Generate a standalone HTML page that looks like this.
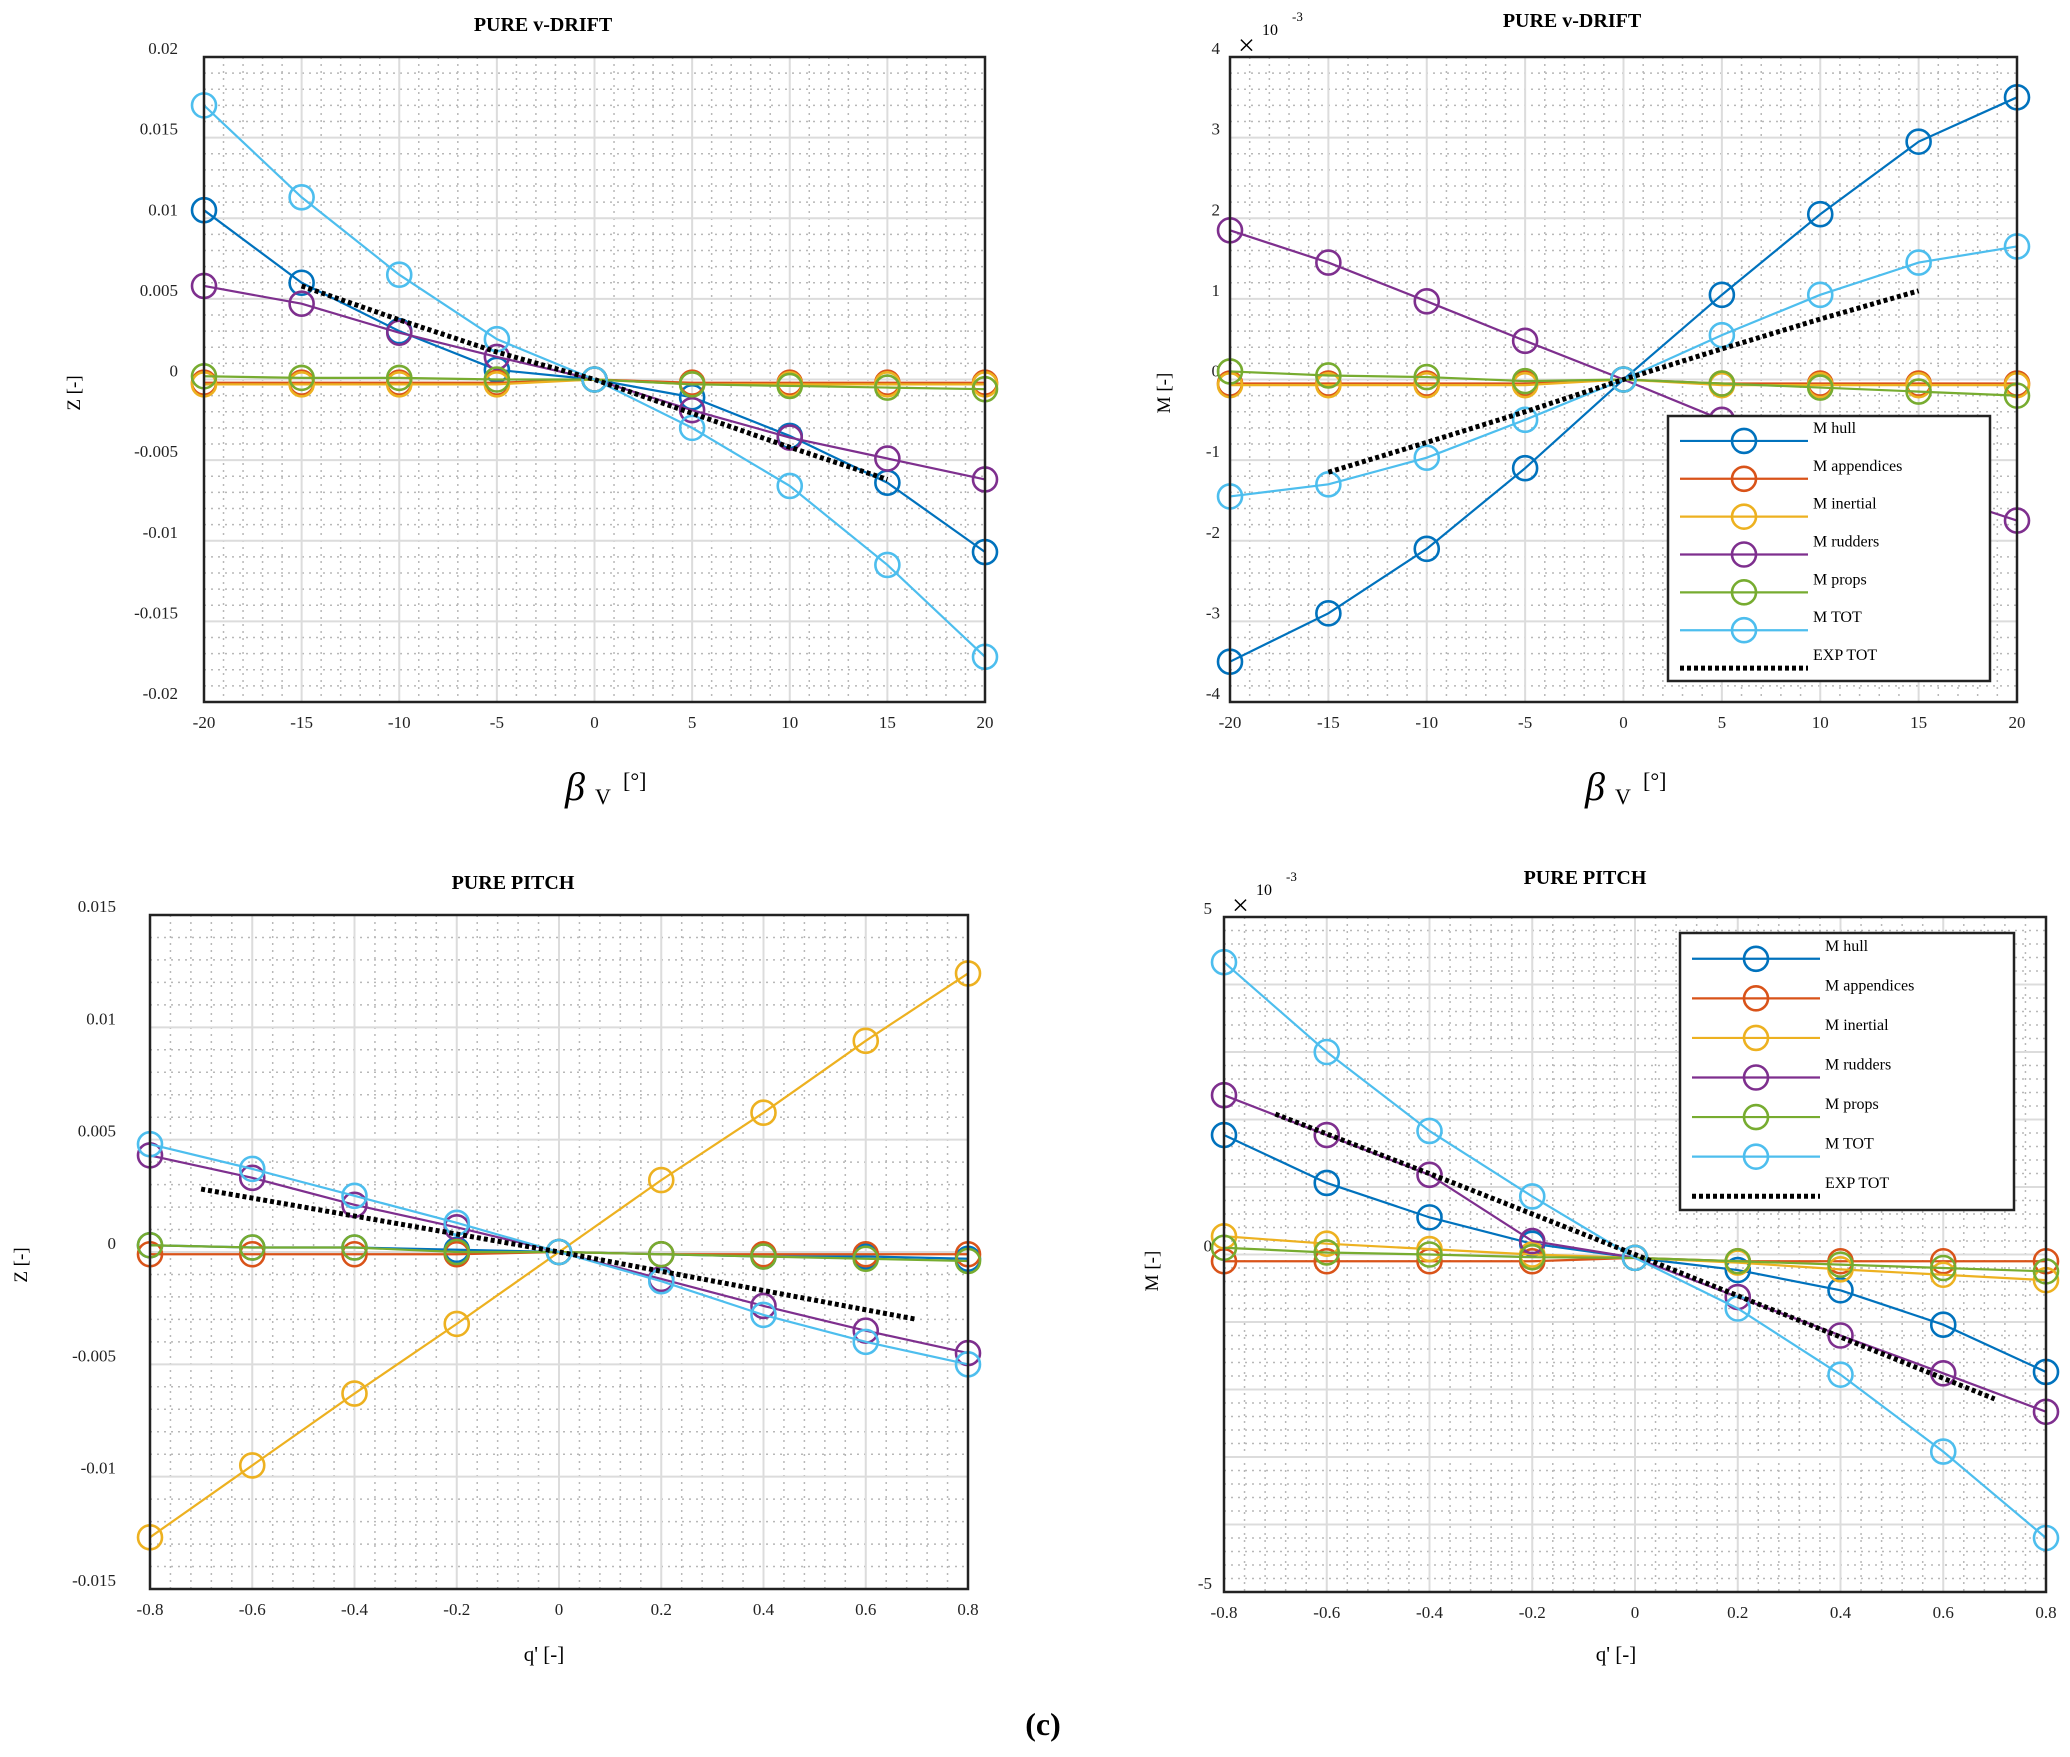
<!DOCTYPE html>
<html><head><meta charset="utf-8">
<style>
body{margin:0;background:#fff;}
svg{display:block;font-family:"Liberation Serif",serif;}
</style></head>
<body>
<svg id="fig" width="2070" height="1757" viewBox="0 0 2070 1757" xmlns="http://www.w3.org/2000/svg">
<rect width="2070" height="1757" fill="#fff"/>
<text x="1043" y="1735" font-size="32" font-weight="bold" text-anchor="middle">(c)</text>
</svg>
<script>
const seriesNames = ["M hull","M appendices","M inertial","M rudders","M props","M TOT"];
const seriesColors = ["#0072BD","#D95319","#EDB120","#7E2F8E","#77AC30","#4DBEEE"];

// Chart 1: PURE v-DRIFT, Z
const c1X = [-20,-15,-10,-5,0,5,10,15,20];
const c1Hull = [0.0105,0.006,0.003,0.0006,0,-0.0011,-0.0035,-0.0064,-0.0107];
const c1App = [-0.0002,-0.0002,-0.0002,-0.0002,0,-0.0002,-0.0002,-0.0002,-0.0002];
const c1Inert = [-0.0003,-0.0003,-0.0003,-0.0003,0,-0.0003,-0.0003,-0.0003,-0.0003];
const c1Rud = [0.0058,0.0047,0.0029,0.0014,0,-0.0019,-0.0036,-0.0049,-0.0062];
const c1Props = [0.0002,0.0001,0.0001,0,0,-0.0003,-0.0004,-0.0005,-0.0006];
const c1Tot = [0.017,0.0113,0.0065,0.0025,0,-0.003,-0.0066,-0.0115,-0.0172];
const c1ExpX = [-15,-10,-5,0,5,10,15];
const c1Exp = [0.0058,0.0037,0.0017,0,-0.0021,-0.0042,-0.0062];
const c1YTicks = [0.02,0.015,0.01,0.005,0,-0.005,-0.01,-0.015,-0.02];
const c1YLabels = ["0.02","0.015","0.01","0.005","0","-0.005","-0.01","-0.015","-0.02"];
const c1XTicks = [-20,-15,-10,-5,0,5,10,15,20];

// Chart 2: PURE v-DRIFT, M (x1e-3)
const c2X = [-20,-15,-10,-5,0,5,10,15,20];
const c2Hull = [-3.5,-2.9,-2.1,-1.1,0,1.05,2.05,2.95,3.5];
const c2App = [-0.05,-0.05,-0.05,-0.05,0,-0.05,-0.05,-0.05,-0.05];
const c2Inert = [-0.07,-0.07,-0.07,-0.07,0,-0.07,-0.07,-0.07,-0.07];
const c2Rud = [1.85,1.45,0.97,0.48,0,-0.5,-0.95,-1.35,-1.75];
const c2Props = [0.1,0.05,0.03,-0.02,0,-0.05,-0.1,-0.15,-0.2];
const c2Tot = [-1.45,-1.3,-0.97,-0.5,0,0.55,1.05,1.45,1.65];
const c2ExpX = [-15,-10,-5,0,5,10,15];
const c2Exp = [-1.15,-0.78,-0.4,0,0.38,0.75,1.1];
const c2YTicks = [4,3,2,1,0,-1,-2,-3,-4];
const c2YLabels = ["4","3","2","1","0","-1","-2","-3","-4"];
const c2XTicks = [-20,-15,-10,-5,0,5,10,15,20];

// Chart 3: PURE PITCH, Z
const c3X = [-0.8,-0.6,-0.4,-0.2,0,0.2,0.4,0.6,0.8];
const c3Hull = [0.0003,0.0002,0.0002,0.0001,0,-0.0001,-0.0002,-0.0002,-0.0003];
const c3App = [-0.0001,-0.0001,-0.0001,-0.0001,0,-0.0001,-0.0001,-0.0001,-0.0001];
const c3Inert = [-0.0127,-0.0095,-0.0063,-0.0032,0,0.0032,0.0062,0.0094,0.0124];
const c3Rud = [0.0043,0.0033,0.0021,0.0011,0,-0.0012,-0.0024,-0.0035,-0.0045];
const c3Props = [0.0003,0.0002,0.0002,0,0,-0.0001,-0.0002,-0.0003,-0.0004];
const c3Tot = [0.0048,0.0037,0.0025,0.0013,0,-0.0013,-0.0028,-0.004,-0.005];
const c3ExpX = [-0.7,-0.35,0,0.35,0.7];
const c3Exp = [0.0028,0.0014,0,-0.0015,-0.003];
const c3YTicks = [0.015,0.01,0.005,0,-0.005,-0.01,-0.015];
const c3YLabels = ["0.015","0.01","0.005","0","-0.005","-0.01","-0.015"];
const c3XTicks = [-0.8,-0.6,-0.4,-0.2,0,0.2,0.4,0.6,0.8];

// Chart 4: PURE PITCH, M (x1e-3)
const c4X = [-0.8,-0.6,-0.4,-0.2,0,0.2,0.4,0.6,0.8];
const c4Hull = [1.77,1.06,0.55,0.16,-0.05,-0.23,-0.53,-1.04,-1.74];
const c4App = [-0.1,-0.1,-0.1,-0.1,-0.05,-0.1,-0.1,-0.1,-0.1];
const c4Inert = [0.27,0.16,0.08,0,-0.05,-0.12,-0.22,-0.3,-0.38];
const c4Rud = [2.36,1.77,1.18,0.2,-0.05,-0.63,-1.2,-1.76,-2.33];
const c4Props = [0.1,0.03,0,-0.04,-0.05,-0.1,-0.15,-0.2,-0.25];
const c4Tot = [4.33,3.0,1.83,0.86,-0.05,-0.8,-1.78,-2.92,-4.2];
const c4ExpX = [-0.7,-0.35,0,0.35,0.7];
const c4Exp = [2.08,1.05,0,-1.07,-2.14];
const c4YTicks = [5,4,3,2,1,0,-1,-2,-3,-4,-5];
const c4YLabels = ["5","","","","","0","","","","","-5"];
const c4XTicks = [-0.8,-0.6,-0.4,-0.2,0,0.2,0.4,0.6,0.8];

const NS = "http://www.w3.org/2000/svg";
const svg = document.getElementById('fig');
function mk(tag, attrs, parent){
  const e = document.createElementNS(NS, tag);
  for (const k in attrs) e.setAttribute(k, attrs[k]);
  (parent||svg).appendChild(e);
  return e;
}

function chart(cfg){
  const g = mk('g', {});
  
  
  const L=cfg.box[0], R=cfg.box[1], T=cfg.box[2], B=cfg.box[3];
  const sx = v => L + (v - cfg.xr[0])/(cfg.xr[1]-cfg.xr[0])*(R-L);
  const sy = v => B - (v - cfg.yr[0])/(cfg.yr[1]-cfg.yr[0])*(B-T);
  // minor grid
  const xStep = cfg.xTicks[1]-cfg.xTicks[0];
  const yStep = cfg.yTicks[0]-cfg.yTicks[1];
  for (let i=0;i<cfg.xTicks.length-1;i++){
    for (let k=1;k<5;k++){
      const x = sx(cfg.xTicks[i]+xStep*k/5);
      const ln = mk('line',{x1:x,x2:x,y1:T,y2:B,stroke:'#b8b8b8','stroke-width':1.5,'stroke-dasharray':'2 5'},g);
      
      
    }
  }
  for (let i=0;i<cfg.yTicks.length-1;i++){
    for (let k=1;k<5;k++){
      const y = sy(cfg.yTicks[i]-yStep*k/5);
      const ln = mk('line',{x1:L,x2:R,y1:y,y2:y,stroke:'#b8b8b8','stroke-width':1.5,'stroke-dasharray':'2 5'},g);
      
      
    }
  }
  // major grid + ticks
  cfg.xTicks.forEach(v=>{
    const x=sx(v);
    const ln = mk('line',{x1:x,x2:x,y1:T,y2:B,stroke:'#dcdcdc','stroke-width':2},g);
    
    
    const t = mk('text',{x:x,y:B+26,'font-size':17,'text-anchor':'middle',fill:'#222'},g);
    t.textContent = String(v);
    
    
  });
  cfg.yTicks.forEach((v,i)=>{
    const y=sy(v);
    const ln = mk('line',{x1:L,x2:R,y1:y,y2:y,stroke:'#dcdcdc','stroke-width':2},g);
    
    
    if (cfg.yLabels[i]!==""){
      const t = mk('text',{x:L-cfg.ylabOff,y:y-3,'font-size':17,'text-anchor':'end',fill:'#222'},g);
      t.textContent = cfg.yLabels[i];
      
      
    }
  });
  // series
  const sets=[cfg.hull,cfg.app,cfg.inert,cfg.rud,cfg.props,cfg.tot];
  const clip = mk('clipPath',{id:cfg.name+'-clip'},g);
  mk('rect',{x:L-14,y:T-14,width:R-L+28,height:B-T+28},clip);
  sets.forEach((vals,si)=>{
    const sg = mk('g',{},g);
    
    
    const pts = vals.map((v,i)=>sx(cfg.x[i])+','+sy(v)).join(' ');
    const pl = mk('polyline',{points:pts,fill:'none',stroke:seriesColors[si],'stroke-width':2.2},sg);
    
    
    vals.forEach((v,i)=>{
      const c = mk('circle',{cx:sx(cfg.x[i]),cy:sy(v),r:12,fill:'none',stroke:seriesColors[si],'stroke-width':2.6},sg);
      
      
    });
  });
  const ep = cfg.exp.map((v,i)=>sx(cfg.expX[i])+','+sy(v)).join(' ');
  const el = mk('polyline',{points:ep,fill:'none',stroke:'#000','stroke-width':5,'stroke-dasharray':'4 3'},g);
  
  
  // frame
  const fr = mk('rect',{x:L,y:T,width:R-L,height:B-T,fill:'none',stroke:'#222','stroke-width':2.5},g);
  
  
  // title
  const tt = mk('text',{x:cfg.title[1],y:cfg.title[2],'font-size':20,'font-weight':'bold','text-anchor':'middle'},g);
  tt.textContent = cfg.title[0];
  
  
  // y label
  const yl = mk('text',{x:0,y:0,'font-size':19,'text-anchor':'middle',transform:'translate('+cfg.ylab[1]+','+cfg.ylab[2]+') rotate(-90)'},g);
  yl.textContent = cfg.ylab[0];
  
  
  // x label
  if (cfg.beta){
    const xl = mk('text',{x:cfg.xlab[1],y:cfg.xlab[2],'font-size':40,'font-style':'italic','text-anchor':'middle'},g);
    xl.textContent = 'β';
    
    
    const sub = mk('text',{x:cfg.xlab[1]+20,y:cfg.xlab[2]+4,'font-size':22},g);
    sub.textContent='V';
    
    
    const u = mk('text',{x:cfg.xlab[1]+48,y:cfg.xlab[2]-12,'font-size':22},g);
    u.textContent='[°]';
    
    
  } else {
    const xl = mk('text',{x:cfg.xlab[1],y:cfg.xlab[2],'font-size':21,'text-anchor':'middle'},g);
    xl.textContent = cfg.xlab[0];
    
    
  }
  if (cfg.exp10){
    const m = mk('text',{x:L+8,y:T-2,'font-size':30},g);
    m.textContent='×';
    
    
    const m2 = mk('text',{x:L+32,y:T-22,'font-size':16},g);
    m2.textContent='10';
    
    
    const m3 = mk('text',{x:L+62,y:T-36,'font-size':13},g);
    m3.textContent='-3';
    
    
  }
  if (cfg.legend){
    const [lx,rx,ty,by] = cfg.legend;
    const lg = mk('g',{},g);
    
    
    const lb = mk('rect',{x:lx,y:ty,width:rx-lx,height:by-ty,fill:'#fff',stroke:'#222','stroke-width':2.5},lg);
    
    
    const sp = (by-ty)/7;
    const names = seriesNames.concat(['EXP TOT']);
    names.forEach((n,i)=>{
      const y = ty + sp*(i+0.5);
      const eg = mk('g',{},lg);
      
      
      if (i<6){
        mk('line',{x1:lx+12,x2:lx+140,y1:y+6,y2:y+6,stroke:seriesColors[i],'stroke-width':2.2},eg);
        mk('circle',{cx:lx+76,cy:y+6,r:12,fill:'none',stroke:seriesColors[i],'stroke-width':2.6},eg);
      } else {
        mk('line',{x1:lx+12,x2:lx+140,y1:y+6,y2:y+6,stroke:'#000','stroke-width':5,'stroke-dasharray':'4 3'},eg);
      }
      const t = mk('text',{x:lx+145,y:y-2,'font-size':16},eg);
      t.textContent = n;
    });
  }
}

chart({name:'chart-z-vdrift',box:[204,985,57,702],xr:[-20,20],yr:[-0.02,0.02],x:c1X,hull:c1Hull,app:c1App,inert:c1Inert,rud:c1Rud,props:c1Props,tot:c1Tot,expX:c1ExpX,exp:c1Exp,xTicks:c1XTicks,yTicks:c1YTicks,yLabels:c1YLabels,ylabOff:26,title:['PURE v-DRIFT',543,31],ylab:['Z [-]',80,393],xlab:['',575,800],beta:true});
chart({name:'chart-m-vdrift',box:[1230,2017,57,702],xr:[-20,20],yr:[-4,4],x:c2X,hull:c2Hull,app:c2App,inert:c2Inert,rud:c2Rud,props:c2Props,tot:c2Tot,expX:c2ExpX,exp:c2Exp,xTicks:c2XTicks,yTicks:c2YTicks,yLabels:c2YLabels,ylabOff:10,title:['PURE v-DRIFT',1572,27],ylab:['M [-]',1170,393],xlab:['',1595,800],beta:true,exp10:true,legend:[1668,1990,416,681]});
chart({name:'chart-z-pitch',box:[150,968,915,1589],xr:[-0.8,0.8],yr:[-0.015,0.015],x:c3X,hull:c3Hull,app:c3App,inert:c3Inert,rud:c3Rud,props:c3Props,tot:c3Tot,expX:c3ExpX,exp:c3Exp,xTicks:c3XTicks,yTicks:c3YTicks,yLabels:c3YLabels,ylabOff:34,title:['PURE PITCH',513,889],ylab:['Z [-]',27,1265],xlab:["q' [-]",544,1661]});
chart({name:'chart-m-pitch',box:[1224,2046,917,1592],xr:[-0.8,0.8],yr:[-5,5],x:c4X,hull:c4Hull,app:c4App,inert:c4Inert,rud:c4Rud,props:c4Props,tot:c4Tot,expX:c4ExpX,exp:c4Exp,xTicks:c4XTicks,yTicks:c4YTicks,yLabels:c4YLabels,ylabOff:12,title:['PURE PITCH',1585,884],ylab:['M [-]',1158,1271],xlab:["q' [-]",1616,1661],exp10:true,legend:[1680,2014,933,1210]});
</script>
</body></html>
